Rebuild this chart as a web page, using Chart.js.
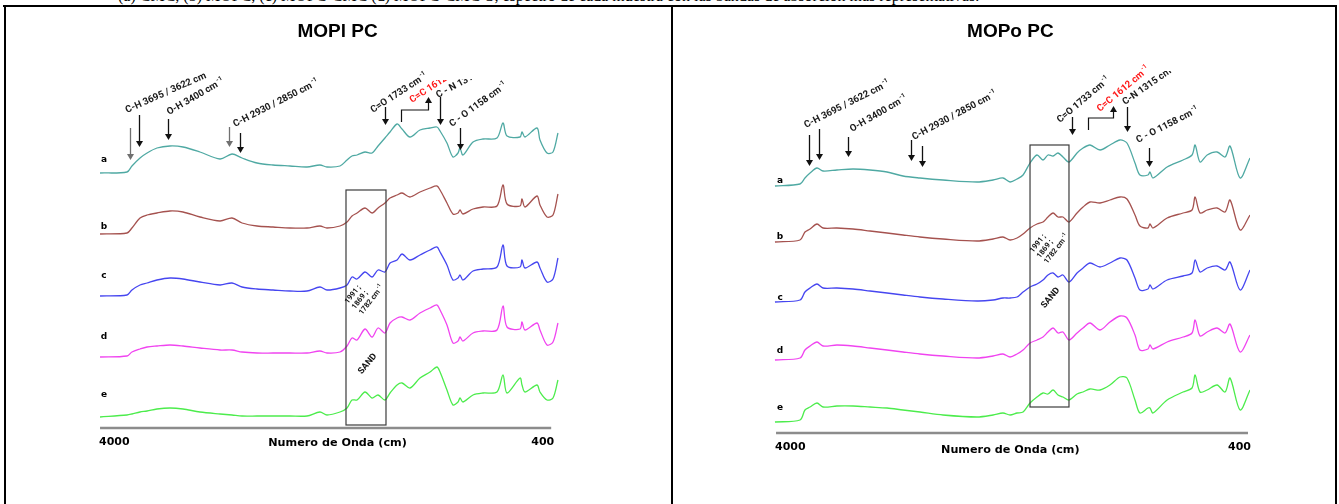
<!DOCTYPE html>
<html>
<head>
<meta charset="utf-8">
<script src="https://cdn.jsdelivr.net/npm/chart.js@4.4.1/dist/chart.umd.min.js"></script>
<style>
  body { margin: 0; width: 1339px; height: 504px; overflow: hidden; background: #fff; position: relative; }
  .caption { position: absolute; left: 118px; top: -12px; font: 16px/16px 'Liberation Serif', serif; white-space: nowrap; color: #000; }
  .rule-top { position: absolute; left: 3px; top: 5px; width: 1334px; height: 2px; background: #000; }
  .rule-v { position: absolute; top: 5px; width: 2px; height: 499px; background: #000; }
  canvas { position: absolute; top: 0; }
</style>
</head>
<body>
<div class="caption">(a) CMC, (b) MOPC, (c) MOPC-CMC (d) MOPC-CMC-S, espectro de cada muestra con las bandas de absorción más representativas.</div>
<canvas id="left" width="672" height="504" style="left:0"></canvas>
<canvas id="right" width="667" height="504" style="left:672px"></canvas>
<div class="rule-top"></div>
<div class="rule-v" style="left:4px"></div>
<div class="rule-v" style="left:671px"></div>
<div class="rule-v" style="left:1335px"></div>
<script>
// ---- MOPl PC : wavenumbers (cm-1) and stacked spectra (a.u.) ----
const leftWavenumbers = [3923,3716,3678,3616,3562,3486,3386,3286,3156,3002,2910,2833,2718,2595,2465,2334,2235,2181,2081,2027,1989,1950,1889,1835,1789,1736,1697,1643,1605,1544,1467,1390,1337,1313,1260,1214,1175,1160,1137,1060,983,876,830,799,699,684,661,569,546,492,446,408];
const leftA = [255,256,262,270,275,280,282,281,276,269,274,270,265,263,262,261,263,261,262,268,272,273,276,275,282,290,296,304,299,291,298,300,301,297,285,271,275,280,273,286,289,290,305,292,291,296,291,300,288,275,276,295];
const leftB = [194,195,200,210,213,215,217,216,211,207,210,205,202,201,200,200,202,200,202,206,212,215,220,215,220,225,230,233,235,231,236,240,242,238,225,214,215,218,214,219,221,222,243,224,222,229,221,232,223,211,213,234];
const leftC = [132,133,138,143,145,148,150,149,146,143,145,141,139,138,137,137,141,138,140,143,151,149,156,151,158,156,165,168,174,168,173,178,181,176,163,148,150,153,148,157,159,161,183,162,161,168,160,166,160,146,149,170];
const leftD = [71,72,76,79,81,82,83,82,80,78,78,76,75,75,75,75,77,75,76,82,90,88,99,91,100,95,105,110,111,108,115,120,123,118,103,85,87,91,87,95,97,98,122,101,99,106,98,105,98,83,86,105];
const leftE = [11,13,14,16,17,19,20,19,16,14,13,12,12,12,12,12,16,13,16,20,28,28,36,30,33,28,35,43,45,40,50,56,61,56,38,23,26,30,26,33,35,36,53,35,50,43,36,43,36,28,30,48];

// ---- MOPo PC ----
const rightWavenumbers = [3948,3761,3724,3686,3634,3589,3485,3365,3238,3111,2992,2865,2693,2439,2319,2245,2192,2140,2095,2043,1991,1946,1909,1871,1834,1797,1752,1692,1647,1595,1520,1446,1371,1319,1259,1222,1162,1147,1124,1019,900,833,810,773,720,646,586,549,474,400];
const rightA = [245,247,253,258,263,260,261,262,261,259,255,253,251,249,251,253,249,252,256,268,276,271,276,275,278,274,269,278,283,286,281,286,291,288,268,256,256,259,253,264,271,276,286,269,276,279,274,285,253,273];
const rightB = [189,191,199,202,207,203,203,202,200,198,196,194,192,190,192,194,191,193,197,203,207,209,214,218,214,214,209,218,224,229,228,231,234,232,216,205,203,207,203,213,218,221,234,218,221,223,219,231,201,216];
const rightC = [129,131,139,143,147,143,143,142,140,138,136,134,132,130,131,133,133,134,139,144,147,151,156,158,154,156,149,158,163,168,164,168,173,171,153,141,142,146,142,151,155,158,171,159,163,165,161,169,141,161];
const rightD = [71,73,81,85,89,85,86,85,83,81,79,77,75,73,75,77,74,77,81,88,91,94,99,103,98,99,91,98,103,108,101,109,115,113,96,81,82,86,82,89,94,98,111,95,99,103,98,107,79,96];
const rightE = [9,11,21,24,28,24,25,25,24,23,21,19,16,14,16,18,16,18,19,28,34,38,37,41,36,34,31,37,39,42,41,46,54,53,31,18,23,23,18,31,39,43,56,39,41,46,39,53,21,41];

// series names and the wavenumber ticks printed under each axis
const seriesNames = ['a', 'b', 'c', 'd', 'e'];
const axisTicks = ['4000', '400'];
const seriesColors = ['#4fa9a3', '#a5524f', '#4646f0', '#f044f0', '#4cec4c'];

const LABEL_FONT = "bold 9.6px Roboto, 'Liberation Sans', sans-serif";
const SUP_FONT = "bold 6.3px Roboto, 'Liberation Sans', sans-serif";

// Draws the panel decorations (axis, bands, SAND window) on top of the spectra
function decorations(cfg) {
  return {
    id: 'decorations',
    afterDatasetsDraw(chart) {
      const ctx = chart.ctx;
      const X = w => chart.scales.x.getPixelForValue(w);
      const Y = v => chart.scales.y.getPixelForValue(v);
      ctx.save();

      // panel title
      ctx.fillStyle = '#000';
      ctx.font = "bold 19px 'Liberation Sans', Arial, sans-serif";
      ctx.textAlign = 'center';
      ctx.textBaseline = 'middle';
      ctx.fillText(cfg.title, X(cfg.titleAt), 32);

      // baseline axis
      const y0 = Y(0) + cfg.axisShift;
      ctx.strokeStyle = '#8c8c8c';
      ctx.lineWidth = 2.5;
      ctx.beginPath();
      ctx.moveTo(X(cfg.axisFrom), y0);
      ctx.lineTo(X(cfg.axisTo), y0);
      ctx.stroke();

      ctx.fillStyle = '#000';
      ctx.font = "bold 11px 'DejaVu Sans', Verdana, sans-serif";
      ctx.textBaseline = 'middle';
      ctx.textAlign = 'left';
      ctx.fillText(axisTicks[0], X(cfg.axisFrom) - 1, y0 + cfg.tickGap);
      ctx.textAlign = 'right';
      ctx.fillText(axisTicks[1], X(cfg.axisTo) + 3, y0 + cfg.tickGap);
      ctx.textAlign = 'center';
      ctx.font = "bold 11.2px 'DejaVu Sans', Verdana, sans-serif";
      ctx.fillText('Numero de Onda (cm)', X(cfg.titleAt), y0 + cfg.titleGap);

      // series letters
      ctx.font = "bold 9px 'DejaVu Sans', Verdana, sans-serif";
      ctx.textAlign = 'center';
      seriesNames.forEach((n, i) => ctx.fillText(n, X(cfg.letterAt), Y(cfg.letterLevels[i])));

      // SAND window
      const b = cfg.sandBox;
      ctx.strokeStyle = '#3c3c3c';
      ctx.lineWidth = 1.2;
      ctx.strokeRect(X(b.from), Y(b.top), X(b.to) - X(b.from), Y(b.bottom) - Y(b.top));

      ctx.fillStyle = '#111';
      ctx.save();
      ctx.translate(X(b.textAt[0]), Y(b.textAt[1]));
      ctx.rotate(b.angle * Math.PI / 180);
      ctx.textAlign = 'left';
      ctx.textBaseline = 'alphabetic';
      ctx.font = "bold 7.5px Roboto, 'Liberation Sans', sans-serif";
      ['1991 ;', '1869 ;', '1782 cm'].forEach((t, i) => {
        ctx.fillText(t, 0, i * 9);
        if (i === 2) {
          const wdt = ctx.measureText(t).width;
          ctx.font = "bold 5px Roboto, 'Liberation Sans', sans-serif";
          ctx.fillText('-1', wdt + 1, i * 9 - 3.5);
          ctx.font = "bold 7.5px Roboto, 'Liberation Sans', sans-serif";
        }
      });
      ctx.restore();
      ctx.save();
      ctx.translate(X(b.sandAt[0]), Y(b.sandAt[1]));
      ctx.rotate(b.sandAngle * Math.PI / 180);
      ctx.font = "bold 9px Roboto, 'Liberation Sans', sans-serif";
      ctx.textAlign = 'left';
      ctx.fillText('SAND', 0, 0);
      ctx.restore();

      // band arrows (pointing down at the band)
      cfg.arrows.forEach(a => {
        const x = Math.round(X(a.w)) + 0.5;
        const yt = Y(a.top), yb = Y(a.tip);
        ctx.strokeStyle = a.color || '#111';
        ctx.fillStyle = a.color || '#111';
        ctx.lineWidth = 1.3;
        ctx.beginPath(); ctx.moveTo(x, yt); ctx.lineTo(x, yb - 5); ctx.stroke();
        ctx.beginPath(); ctx.moveTo(x - 3.5, yb - 6); ctx.lineTo(x + 3.5, yb - 6); ctx.lineTo(x, yb); ctx.closePath(); ctx.fill();
      });

      // C=C elbow arrow pointing up to its label
      const k = cfg.bracket;
      const x1 = Math.round(X(k.from)) + 0.5, x2 = Math.round(X(k.to)) + 0.5;
      ctx.strokeStyle = '#111'; ctx.fillStyle = '#111'; ctx.lineWidth = 1.2;
      ctx.beginPath();
      ctx.moveTo(x1, Y(k.base)); ctx.lineTo(x1, Y(k.elbow)); ctx.lineTo(x2, Y(k.elbow)); ctx.lineTo(x2, Y(k.tip) + 5);
      ctx.stroke();
      ctx.beginPath(); ctx.moveTo(x2 - 3.5, Y(k.tip) + 6); ctx.lineTo(x2 + 3.5, Y(k.tip) + 6); ctx.lineTo(x2, Y(k.tip)); ctx.closePath(); ctx.fill();

      // band labels; some run past the top edge of the panel picture and are cut there
      cfg.labels.forEach(l => {
        ctx.save();
        ctx.beginPath();
        ctx.rect(0, l.clip != null ? l.clip : cfg.labelClip, chart.width, chart.height);
        ctx.clip();
        ctx.translate(X(l.w), Y(l.v));
        ctx.rotate(l.angle * Math.PI / 180);
        ctx.fillStyle = l.color || '#1a1a1a';
        ctx.font = LABEL_FONT;
        ctx.textAlign = 'left';
        ctx.textBaseline = 'alphabetic';
        ctx.fillText(l.text, 0, 0);
        if (l.sup) {
          const wdt = ctx.measureText(l.text).width;
          ctx.font = SUP_FONT;
          ctx.fillText(l.sup, wdt + 1, -4.3);
        }
        ctx.restore();
      });

      ctx.restore();
    }
  };
}

function makePanel(id, wavenumbers, series, cfg) {
  const datasets = series.map((values, i) => ({
    label: seriesNames[i],
    data: wavenumbers.map((w, j) => ({ x: w, y: values[j] })),
    borderColor: seriesColors[i],
    borderWidth: 1.3,
    pointRadius: 0,
    tension: 0.3,
    fill: false
  }));
  new Chart(document.getElementById(id), {
    type: 'line',
    data: { datasets },
    options: {
      responsive: false,
      animation: false,
      events: [],
      layout: { padding: cfg.padding },
      scales: {
        x: { type: 'linear', min: 400, max: 4000, reverse: true, display: false },
        y: { min: 0, max: 370, display: false }
      },
      plugins: { legend: { display: false }, tooltip: { enabled: false }, title: { display: false } }
    },
    plugins: [decorations(cfg)]
  });
}

makePanel('left', leftWavenumbers, [leftA, leftB, leftC, leftD, leftE], {
  title: 'MOPl PC', titleAt: 2100,
  padding: { left: 90, right: 113, top: 58, bottom: 76 },
  axisFrom: 3923, axisTo: 460, axisShift: 0, tickGap: 14, titleGap: 15,
  letterAt: 3893, letterLevels: [268, 201, 152, 91, 33],
  sandBox: { from: 2035, to: 1728, top: 238, bottom: 3, textAt: [2020, 124], angle: -52, sandAt: [1927, 55], sandAngle: -50 },
  arrows: [
    { w: 3695, top: 300, tip: 268, color: '#707070' }, { w: 3622, top: 313, tip: 281 },
    { w: 3400, top: 309, tip: 288 }, { w: 2930, top: 301, tip: 281, color: '#707070' },
    { w: 2850, top: 295, tip: 275 }, { w: 1733, top: 321, tip: 303 },
    { w: 1315, top: 331, tip: 303 }, { w: 1158, top: 300, tip: 278 }
  ],
  bracket: { from: 1612, to: 1405, base: 306, elbow: 318, tip: 331 },
  labelClip: 66,
  labels: [
    { text: 'C-H 3695 / 3622 cm', w: 3716, v: 315, angle: -24 },
    { text: 'O-H 3400 cm', sup: '-1', w: 3394, v: 313, angle: -30 },
    { text: 'C-H 2930 / 2850 cm', sup: '-1', w: 2887, v: 301, angle: -27 },
    { text: 'C=O 1733 cm', sup: '-1', w: 1828, v: 315, angle: -33 },
    { text: 'C=C 1612 cm', sup: '-1', w: 1528, v: 325, angle: -33, color: '#ff1a1a', clip: 80 },
    { text: 'C - N 1315 cm', sup: '-1', w: 1329, v: 330, angle: -28, clip: 79 },
    { text: 'C - O 1158 cm', sup: '-1', w: 1221, v: 301, angle: -36 }
  ]
});

makePanel('right', rightWavenumbers, [rightA, rightB, rightC, rightD, rightE], {
  title: 'MOPo PC', titleAt: 2190,
  padding: { left: 96, right: 89, top: 61, bottom: 73 },
  axisFrom: 3940, axisTo: 415, axisShift: 2, tickGap: 14, titleGap: 17,
  letterAt: 3910, letterLevels: [250, 194, 133, 80, 23],
  sandBox: { from: 2043, to: 1752, top: 286, bottom: 24, textAt: [2021, 178], angle: -52, sandAt: [1946, 124], sandAngle: -50 },
  arrows: [
    { w: 3695, top: 296, tip: 265 }, { w: 3622, top: 302, tip: 271 },
    { w: 3400, top: 294, tip: 274 }, { w: 2930, top: 291, tip: 270 },
    { w: 2850, top: 285, tip: 264 }, { w: 1733, top: 314, tip: 296 },
    { w: 1315, top: 324, tip: 299 }, { w: 1158, top: 283, tip: 264 }
  ],
  bracket: { from: 1612, to: 1423, base: 301, elbow: 313, tip: 325 },
  labelClip: 60,
  labels: [
    { text: 'C-H 3695 / 3622 cm', sup: '-1', w: 3716, v: 303, angle: -27 },
    { text: 'O-H 3400 cm', sup: '-1', w: 3373, v: 299, angle: -30 },
    { text: 'C-H 2930 / 2850 cm', sup: '-1', w: 2910, v: 291, angle: -28 },
    { text: 'C=O 1733 cm', sup: '-1', w: 1819, v: 308, angle: -40 },
    { text: 'C=C 1612 cm', sup: '-1', w: 1520, v: 319, angle: -40, color: '#ff1a1a' },
    { text: 'C-N 1315 cm', w: 1333, v: 326, angle: -35, clip: 71 },
    { text: 'C - O 1158 cm', sup: '-1', w: 1236, v: 288, angle: -27 }
  ]
});
</script>
</body>
</html>
